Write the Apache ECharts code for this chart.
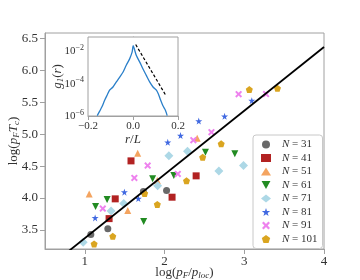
<!DOCTYPE html>
<html><head><meta charset="utf-8">
<script src="https://cdn.jsdelivr.net/npm/echarts@6/dist/echarts.min.js"></script>
<style>html,body{margin:0;padding:0;background:#fff}#c{width:360px;height:280px}</style>
</head><body><div id="c"></div>
<script>
// ---- data ----
const xTicks = [1, 2, 3, 4];
const yTicks = [3.5, 4.0, 4.5, 5.0, 5.5, 6.0, 6.5];
const insetXTicks = [-0.2, 0.0, 0.2];
const insetYTicks = [-6, -4, -2];
const seriesN = [31, 41, 51, 61, 71, 81, 91, 101];

const x31 = [1.075, 1.288, 1.734, 2.025];
const y31 = [3.426, 3.516, 4.101, 4.120];
const x41 = [1.304, 1.381, 1.579, 2.094, 2.396];
const y41 = [3.677, 3.987, 4.583, 4.013, 4.348];
const x51 = [1.054, 1.538, 1.663, 1.909, 2.409];
const y51 = [4.065, 3.803, 4.704, 4.277, 4.940];
const x61 = [1.134, 1.279, 1.738, 1.850, 2.116, 2.513, 2.881];
const y61 = [3.866, 3.976, 3.630, 4.301, 4.352, 4.720, 4.693];
const x71 = [0.979, 1.329, 1.488, 1.913, 2.054, 2.288, 2.681, 2.990];
const y71 = [3.307, 3.798, 3.913, 4.191, 4.662, 4.735, 4.426, 4.509];
const x81 = [1.129, 1.496, 1.671, 2.040, 2.200, 2.429, 2.753, 3.094];
const y81 = [3.688, 4.092, 3.991, 4.874, 4.980, 5.208, 5.282, 5.528];
const x91 = [1.225, 1.621, 1.788, 2.166, 2.361, 2.588, 2.929, 3.273];
const y91 = [3.834, 4.316, 4.509, 4.379, 4.908, 5.034, 5.630, 5.632];
const x101 = [1.116, 1.350, 1.750, 1.909, 2.275, 2.478, 2.710, 3.063, 3.416];
const y101 = [3.280, 3.401, 4.073, 3.900, 4.272, 4.641, 4.850, 5.702, 5.724];

const fitX = [0.5, 4.0];
const fitY = [2.87, 6.37];

const curveR = [-0.159,-0.148,-0.138,-0.126,-0.114,-0.104,-0.089,-0.074,-0.059,-0.044,-0.030,-0.015,-0.004,0.001,0.008,0.015,0.030,0.044,0.059,0.074,0.089,0.104,0.114,0.123,0.133,0.144,0.152];
const curveG = [1.05e-6,2.0e-6,3.7e-6,9.5e-6,2.1e-5,4.0e-5,6.3e-5,1.3e-4,2.6e-4,5.4e-4,1.4e-3,3.5e-3,9.1e-3,2.3e-2,1.15e-2,5.6e-3,2.2e-3,8.5e-4,3.3e-4,1.3e-4,6.3e-5,4.0e-5,2.1e-5,9.5e-6,4.3e-6,2.3e-6,1.05e-6];
const dashR = [0.012, 0.144];
const dashG = [2.7e-2, 2.1e-5];

// ---- styling ----
const xs = [x31,x41,x51,x61,x71,x81,x91,x101];
const ys = [y31,y41,y51,y61,y71,y81,y91,y101];
const colors = ['#696969','#b22222','#f4a460','#228b22','#add8e6','#4169e1','#ee82ee','#daa520'];
const symbols = [
  'circle', 'rect', 'triangle',
  'path://M0,0 L10,0 L5,9 Z',
  'diamond',
  'path://M5,0 L6.2,3.6 L10,3.6 L6.9,5.9 L8.1,9.5 L5,7.3 L1.9,9.5 L3.1,5.9 L0,3.6 L3.8,3.6 Z',
  'path://M2,0 L5,3 L8,0 L10,2 L7,5 L10,8 L8,10 L5,7 L2,10 L0,8 L3,5 L0,2 Z',
  'path://M5,0 L10,3.7 L8.1,9.6 L1.9,9.6 L0,3.7 Z'
];
const sizes = [7, 7, 7, 7, 9, 7, 7, 7];
const FF = 'Liberation Serif';
const frame = '#a0a0a0';
const txt = '#333';

const scatter = seriesN.map((n, i) => ({
  type: 'scatter', name: String(n), xAxisIndex: 0, yAxisIndex: 0,
  symbol: symbols[i], symbolSize: sizes[i],
  itemStyle: {color: colors[i], opacity: 1},
  data: xs[i].map((v, k) => [v, ys[i][k]]),
  z: 3
}));

const nameRich = {
  i: {fontFamily: FF, fontStyle: 'italic', fontSize: 13, color: txt, lineHeight: 14},
  n: {fontFamily: FF, fontSize: 13, color: txt, lineHeight: 14},
  s: {fontFamily: FF, fontStyle: 'italic', fontSize: 9, color: txt, lineHeight: 14, verticalAlign: 'bottom', padding: [5,0,0,0]}
};

const chart = echarts.init(document.getElementById('c'), null, {renderer: 'canvas'});
chart.setOption({
  animation: false,
  grid: [
    {left: 45, top: 33, width: 279, height: 216, show: true, borderColor: frame, borderWidth: 1, backgroundColor: 'transparent', outerBoundsMode: 'none', containLabel: false},
    {left: 88, top: 37, width: 90, height: 79, show: true, borderColor: frame, borderWidth: 1, backgroundColor: '#fff', z: 5, outerBoundsMode: 'none', containLabel: false}
  ],
  xAxis: [
    {type: 'value', gridIndex: 0, min: 0.5, max: 4,
     splitLine: {show: false},
     axisLine: {show: true, lineStyle: {color: frame}},
     axisTick: {show: true, length: 5, lineStyle: {color: frame}, customValues: xTicks},
     axisLabel: {customValues: xTicks, color: txt, fontFamily: FF, fontSize: 13, margin: 6, formatter: v => String(v)},
     name: '{n|log(}{i|p}{s|F}{n|/}{i|p}{s|loc}{n|)}', nameLocation: 'middle', nameGap: 17, nameMoveOverlap: false,
     nameTextStyle: {color: txt, fontFamily: FF, fontSize: 13, lineHeight: 14, rich: nameRich}
    },
    {type: 'value', gridIndex: 1, min: -0.2, max: 0.2, interval: 0.2,
     splitLine: {show: false},
     axisLine: {show: true, lineStyle: {color: frame}},
     axisTick: {show: true, length: 4, lineStyle: {color: frame}},
     axisLabel: {color: txt, fontFamily: FF, fontSize: 11, margin: 5,
       formatter: v => (v < 0 ? '\u2212' : '') + Math.abs(v).toFixed(1)},
     name: '{i|r}{n|/}{i|L}', nameLocation: 'middle', nameGap: 17, nameMoveOverlap: false,
     nameTextStyle: {color: txt, fontFamily: FF, fontSize: 13, lineHeight: 14, rich: nameRich}
    }
  ],
  yAxis: [
    {type: 'value', gridIndex: 0, min: 3.2, max: 6.59,
     splitLine: {show: false},
     axisLine: {show: true, lineStyle: {color: frame}},
     axisTick: {show: true, length: 5, lineStyle: {color: frame}, customValues: yTicks},
     axisLabel: {customValues: yTicks, color: txt, fontFamily: FF, fontSize: 13, margin: 7, formatter: v => v.toFixed(1)},
     name: '{n|log(}{i|p}{s|F}{i|T}{s|c}{n|)}', nameLocation: 'middle', nameGap: 24, nameRotate: 90, nameMoveOverlap: false,
     nameTextStyle: {color: txt, fontFamily: FF, fontSize: 13, lineHeight: 14, rich: nameRich}
    },
    {type: 'value', gridIndex: 1, min: -6, max: -1.1,
     splitLine: {show: false},
     axisLine: {show: true, lineStyle: {color: frame}},
     axisTick: {show: true, length: 4, lineStyle: {color: frame}, customValues: insetYTicks},
     axisLabel: {customValues: insetYTicks, color: txt, fontFamily: FF, fontSize: 11, margin: 4,
       formatter: v => '10{p|\u2212' + Math.abs(v) + '}',
       rich: {p: {fontFamily: FF, fontSize: 8, color: txt, padding: [0,0,7,0]}}},
     name: '{i|g}{s|1}{n|(}{i|r}{n|)}', nameLocation: 'middle', nameGap: 23, nameRotate: 90, nameMoveOverlap: false,
     nameTextStyle: {color: txt, fontFamily: FF, fontSize: 13, lineHeight: 14, rich: nameRich}
    }
  ],
  legend: {
    data: seriesN.map(String), orient: 'vertical', left: 253, top: 135,
    padding: [4, 5, 4, 8], itemWidth: 10, itemHeight: 8, itemGap: 2.5,
    backgroundColor: '#fff', borderColor: '#c8c8c8', borderWidth: 1, borderRadius: 3,
    formatter: n => '{i|N}{t| = ' + n + '}',
    textStyle: {color: txt, fontFamily: FF, fontSize: 11, lineHeight: 8, padding: [0,0,0,6],
      rich: {i: {fontFamily: FF, fontStyle: 'italic', fontSize: 11, color: txt, lineHeight: 8},
             t: {fontFamily: FF, fontSize: 11, color: txt, lineHeight: 8}}},
    z: 10
  },
  series: scatter.concat([
    {type: 'line', name: 'fit', xAxisIndex: 0, yAxisIndex: 0, symbol: 'none', clip: true,
     data: fitX.map((v, k) => [v, fitY[k]]), lineStyle: {color: '#000', width: 1.8}, z: 4, silent: true},
    {type: 'line', name: 'g1', xAxisIndex: 1, yAxisIndex: 1, symbol: 'none', clip: true, smooth: 0.3,
     data: curveR.map((v, k) => [v, Math.log10(curveG[k])]), lineStyle: {color: '#2a7fc9', width: 1.3}, z: 6},
    {type: 'line', name: 'dash', xAxisIndex: 1, yAxisIndex: 1, symbol: 'none', clip: true,
     data: dashR.map((v, k) => [v, Math.log10(dashG[k])]), lineStyle: {color: '#000', width: 1.2, type: [3, 2]}, z: 6}
  ])
});
</script></body></html>
